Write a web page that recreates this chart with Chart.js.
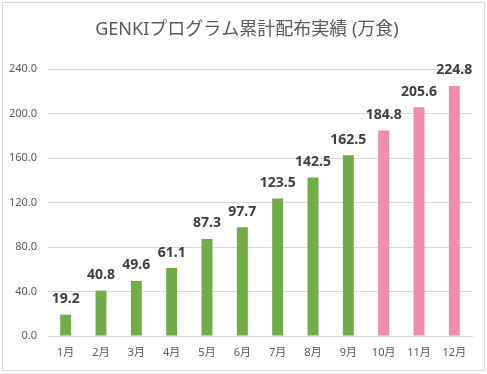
<!DOCTYPE html>
<html>
<head>
<meta charset="utf-8">
<script src="https://cdn.jsdelivr.net/npm/chart.js@4"></script>
<style>
  body { margin: 0; background: #fff; }
  #wrap { position: relative; width: 487px; height: 374px; }
  #frame { position: absolute; left: 2px; top: 2px; width: 481px; height: 367px; border: 1px solid #d9d9d9; pointer-events: none; }
</style>
</head>
<body>
<div id="wrap">
  <canvas id="myChart" width="487" height="374"></canvas>
  <div id="frame"></div>
</div>
<script>
// monthly cumulative totals (10,000 meals)
const months = ['1月', '2月', '3月', '4月', '5月', '6月', '7月', '8月', '9月', '10月', '11月', '12月'];
const totals = [19.2, 40.8, 49.6, 61.1, 87.3, 97.7, 123.5, 142.5, 162.5, 184.8, 205.6, 224.8];
// first nine months are actuals (green), last three are the pink ones
const isPink = [false, false, false, false, false, false, false, false, false, true, true, true];
const yTicks = [0, 40, 80, 120, 160, 200, 240];

const titleText = 'GENKIプログラム累計配布実績 (万食)';
const jpFont = '"Noto Sans", "Noto Sans CJK JP", sans-serif';

// draws the title and the bold numbers above each bar
const labelPlugin = {
    id: 'labels',
    afterDatasetsDraw(chart) {
        const ctx = chart.ctx;
        ctx.save();
        ctx.fillStyle = '#595959';
        ctx.font = '18px ' + jpFont;
        ctx.textAlign = 'center';
        ctx.textBaseline = 'middle';
        ctx.fillText(titleText, 247, 30);

        const meta = chart.getDatasetMeta(0);
        ctx.fillStyle = '#404040';
        ctx.font = 'bold 14px ' + jpFont;
        meta.data.forEach((bar, i) => {
            ctx.fillText(totals[i].toFixed(1), bar.x, bar.y - 15.5);
        });
        ctx.restore();
    }
};

new Chart(document.getElementById('myChart'), {
    type: 'bar',
    data: {
        labels: months,
        datasets: [{
            data: totals,
            backgroundColor: isPink.map(p => p ? '#f08cae' : '#70ad47'),
            categoryPercentage: 1,
            barPercentage: 0.31
        }]
    },
    options: {
        responsive: false,
        animation: false,
        layout: { padding: { top: 69, right: 15, bottom: 0, left: 0 } },
        plugins: {
            legend: { display: false },
            title: { display: false },
            tooltip: { enabled: false }
        },
        scales: {
            x: {
                grid: { display: false, drawTicks: false },
                border: { color: '#d9d9d9' },
                ticks: { color: '#595959', font: { family: jpFont, size: 11 }, padding: 10 },
                afterFit(scale) { scale.height = 38; }
            },
            y: {
                min: 0,
                max: 240,
                afterBuildTicks(scale) { scale.ticks = yTicks.map(v => ({ value: v })); },
                grid: { color: '#d9d9d9', drawTicks: false },
                border: { display: false },
                ticks: {
                    color: '#595959',
                    font: { family: jpFont, size: 11 },
                    padding: 11,
                    callback: v => v.toFixed(1)
                },
                afterFit(scale) { scale.width = 48; }
            }
        }
    },
    plugins: [labelPlugin]
});
</script>
</body>
</html>
